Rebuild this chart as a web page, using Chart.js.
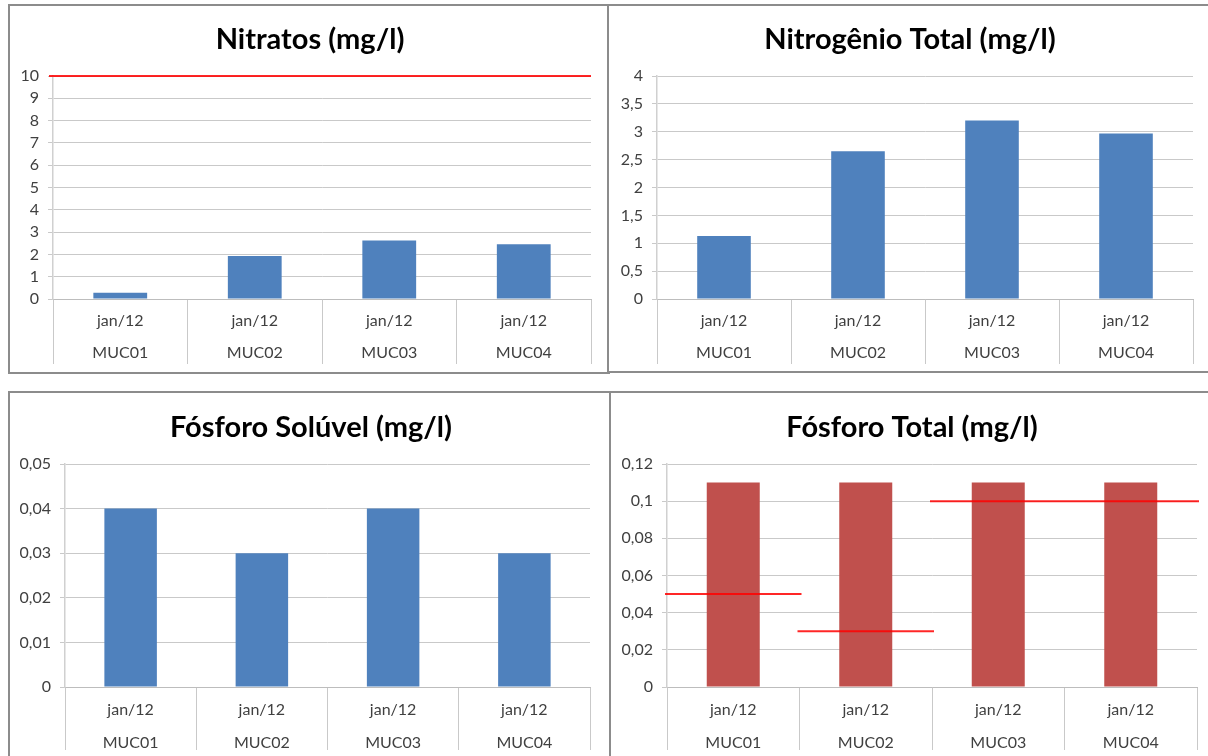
<!DOCTYPE html>
<html>
<head>
<meta charset="utf-8">
<script src="https://cdn.jsdelivr.net/npm/chart.js@4"></script>
<style>
  html, body { margin: 0; padding: 0; background: #fff; }
  body { width: 1208px; height: 756px; position: relative; overflow: hidden; }
  .panel { position: absolute; border: 2px solid #8c8c8c; box-sizing: border-box; background: #fff; }
  canvas { position: absolute; }
</style>
</head>
<body>
<div class="panel" style="left:8px;top:4px;width:602px;height:370px;"></div>
<div class="panel" style="left:607px;top:4px;width:620px;height:369px;"></div>
<div class="panel" style="left:8px;top:391px;width:603px;height:380px;"></div>
<div class="panel" style="left:609px;top:391px;width:620px;height:380px;"></div>

<canvas id="nitratos" width="600" height="366" style="left:10px;top:6px;"></canvas>
<canvas id="nitrogenio" width="602" height="365" style="left:609px;top:6px;"></canvas>
<canvas id="soluvel" width="602" height="363" style="left:10px;top:393px;"></canvas>
<canvas id="fosforo" width="602" height="363" style="left:611px;top:393px;"></canvas>

<script>
// Sampling points and campaign
const sites = ['MUC01', 'MUC02', 'MUC03', 'MUC04'];
const period = 'jan/12';

// Nitratos (mg/l)
const nitratos = [0.28, 1.93, 2.62, 2.45];
const nitratosLimit = [10, 10, 10, 10];
const nitratosTicks = ['0', '1', '2', '3', '4', '5', '6', '7', '8', '9', '10'];

// Nitrogênio Total (mg/l)
const nitrogenio = [1.13, 2.65, 3.2, 2.97];
const nitrogenioTicks = ['0', '0,5', '1', '1,5', '2', '2,5', '3', '3,5', '4'];

// Fósforo Solúvel (mg/l)
const soluvel = [0.04, 0.03, 0.04, 0.03];
const soluvelTicks = ['0', '0,01', '0,02', '0,03', '0,04', '0,05'];

// Fósforo Total (mg/l)
const fosforo = [0.11, 0.11, 0.11, 0.11];
const fosforoLimit = [0.05, 0.03, 0.1, 0.1];
const fosforoTicks = ['0', '0,02', '0,04', '0,06', '0,08', '0,1', '0,12'];

const BLUE = '#4F81BD';
const RED = '#C0504D';
const GRID = '#c9c9c9';
const TEXT = '#404040';

Chart.defaults.font.family = 'Lato, "Open Sans", sans-serif';

// Horizontal reference lines, one run per group of equal consecutive limits
const limitLines = {
  id: 'limitLines',
  afterDatasetsDraw(chart, args, opts) {
    const vals = opts.values;
    if (!vals) return;
    const xs = chart.scales.x, ys = chart.scales.y, ctx = chart.ctx;
    const half = (xs.getPixelForValue(1) - xs.getPixelForValue(0)) / 2;
    ctx.save();
    ctx.strokeStyle = opts.color;
    ctx.lineWidth = opts.width;
    let i = 0;
    while (i < vals.length) {
      let j = i;
      while (j + 1 < vals.length && vals[j + 1] === vals[i]) j++;
      const y = ys.getPixelForValue(vals[i]);
      const x0 = xs.getPixelForValue(i) - half - (opts.extendLeft || 0);
      const x1 = xs.getPixelForValue(j) + half + (opts.extendRight || 0);
      ctx.beginPath();
      ctx.moveTo(x0, y);
      ctx.lineTo(x1, y);
      ctx.stroke();
      i = j + 1;
    }
    ctx.restore();
  }
};

function makeChart(id, o) {
  const canvas = document.getElementById(id);
  const H = canvas.height;
  const W = canvas.width;
  const titleSize = 29;
  const cfg = {
    type: 'bar',
    data: {
      labels: sites.map(s => [period, s]),
      datasets: [{
        data: o.values,
        backgroundColor: o.color,
        borderWidth: 0,
        barPercentage: 0.4,
        categoryPercentage: 1.0
      }]
    },
    options: {
      responsive: false,
      animation: false,
      devicePixelRatio: 1,
      layout: { padding: 0 },
      plugins: {
        legend: { display: false },
        tooltip: { enabled: false },
        title: {
          display: true,
          text: o.title,
          color: '#000',
          font: { size: titleSize, weight: 'bold', lineHeight: 1 },
          padding: { top: o.titleY - titleSize / 2, bottom: o.plotTop - o.titleY - titleSize / 2 }
        },
        limitLines: o.limits ? { values: o.limits, color: 'rgba(255,0,0,0.85)', width: 2,
                                 extendLeft: o.extL || 0, extendRight: o.extR || 0 } : {}
      },
      scales: {
        x: {
          offset: true,
          grid: { display: true, offset: true, drawOnChartArea: false, drawTicks: true,
                  tickLength: o.sepLen, color: GRID, lineWidth: 1 },
          border: { display: true, color: '#bdbdbd', width: 1 },
          ticks: {
            autoSkip: false, maxRotation: 0, minRotation: 0,
            color: TEXT,
            font: { size: 16, lineHeight: o.lineGap / 16 },
            padding: o.firstLine - o.lineGap / 2 - o.sepLen
          },
          afterFit(scale) { scale.height = H - o.plotBottom; }
        },
        y: {
          min: 0, max: o.max,
          ticks: {
            stepSize: o.step,
            color: TEXT,
            font: { size: 16 },
            padding: 9,
            callback: (v, i) => o.ticks[i]
          },
          grid: { color: GRID, lineWidth: 1, drawTicks: true, tickLength: 5 },
          border: { display: true, color: '#d0d0d0', width: 1.5 },
          afterFit(scale) { scale.width = o.plotLeft; }
        },
        // empty right-hand margin of the plot
        margin: {
          type: 'linear', axis: 'y', position: 'right', display: true,
          ticks: { display: false }, grid: { display: false }, border: { display: false },
          afterFit(scale) { scale.width = W - o.plotRight; }
        }
      }
    },
    plugins: o.limits ? [limitLines] : []
  };
  return new Chart(canvas, cfg);
}

makeChart('nitratos', {
  title: 'Nitratos (mg/l)', values: nitratos, color: BLUE,
  max: 10, step: 1, ticks: nitratosTicks,
  limits: nitratosLimit, extL: 4, extR: 0,
  plotLeft: 43, plotRight: 581, plotTop: 70, plotBottom: 293, titleY: 34,
  sepLen: 65, firstLine: 22, lineGap: 32
});

makeChart('nitrogenio', {
  title: 'Nitrogênio Total (mg/l)', values: nitrogenio, color: BLUE,
  max: 4, step: 0.5, ticks: nitrogenioTicks,
  plotLeft: 48, plotRight: 584, plotTop: 70, plotBottom: 293, titleY: 34,
  sepLen: 65, firstLine: 22, lineGap: 32
});

makeChart('soluvel', {
  title: 'Fósforo Solúvel (mg/l)', values: soluvel, color: BLUE,
  max: 0.05, step: 0.01, ticks: soluvelTicks,
  plotLeft: 55, plotRight: 580, plotTop: 71, plotBottom: 294, titleY: 35,
  sepLen: 63, firstLine: 23, lineGap: 33
});

makeChart('fosforo', {
  title: 'Fósforo Total (mg/l)', values: fosforo, color: RED,
  max: 0.12, step: 0.02, ticks: fosforoTicks,
  limits: fosforoLimit, extL: 2, extR: 2,
  plotLeft: 56, plotRight: 586, plotTop: 71, plotBottom: 294, titleY: 35,
  sepLen: 63, firstLine: 23, lineGap: 33
});
</script>
</body>
</html>
